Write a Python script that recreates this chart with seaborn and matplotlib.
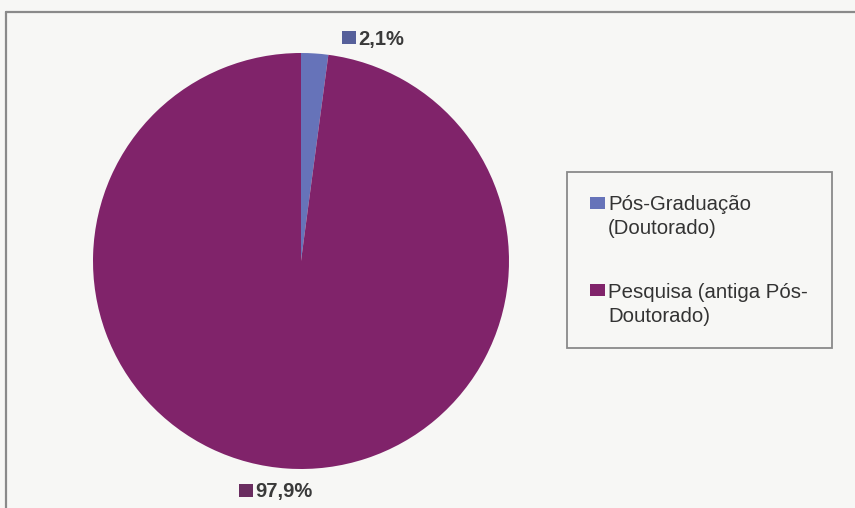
import matplotlib
matplotlib.use("Agg")
import matplotlib.pyplot as plt
import seaborn as sns
from matplotlib.patches import Rectangle
from matplotlib.lines import Line2D

sns.set_theme(style="white")
plt.rcParams["font.family"] = ["Liberation Sans", "DejaVu Sans"]

categories = ["Pós-Graduação\n(Doutorado)", "Pesquisa (antiga Pós-\nDoutorado)"]
shares = [2.1, 97.9]
pct_labels = ["2,1%", "97,9%"]
colors = ["#6673b9", "#80236a"]
marker_colors = ["#56609a", "#6a2d60"]

W, H = 855, 508
BG = "#f7f7f5"
fig = plt.figure(figsize=(W / 100, H / 100), dpi=100, facecolor=BG)


def fx(px):
    return px / W


def fy(py):
    return 1 - py / H


# pie area: centre (301, 261) px, radius 208 px
cx, cy, r = 301, 261, 208
ax = fig.add_axes([fx(cx - r), fy(cy + r), 2 * r / W, 2 * r / H])
ax.set_facecolor("none")
ax.pie(shares, colors=colors, startangle=90, counterclock=False,
       wedgeprops=dict(linewidth=0))
ax.set_xlim(-1, 1)
ax.set_ylim(-1, 1)
ax.set_aspect("equal")
ax.axis("off")

# outer chart frame (top and left edges visible)
frame_kw = dict(transform=fig.transFigure, color="#8a8a8a", lw=1.6)
fig.add_artist(Line2D([fx(6), 1.0], [fy(12), fy(12)], **frame_kw))
fig.add_artist(Line2D([fx(6), fx(6)], [0.0, fy(12)], **frame_kw))

# data labels with coloured key squares
label_pos = [(358, 37), (255, 490)]
for (lx, ly), txt, mc in zip(label_pos, pct_labels, marker_colors):
    fig.text(fx(lx), fy(ly), txt, ha="left", va="center_baseline", fontsize=14.5,
             fontweight="bold", color="#3a3a3a")
    fig.add_artist(Rectangle((fx(lx - 16), fy(ly + 7)), 14 / W, 13 / H,
                             transform=fig.transFigure, facecolor=mc, edgecolor="none"))

# legend box
fig.add_artist(Rectangle((fx(567), fy(348)), (832 - 567) / W, (348 - 172) / H,
                         transform=fig.transFigure, facecolor="none",
                         edgecolor="#8a8a8a", lw=1.3))
entry_y = [203, 290]
for y0, cat, c in zip(entry_y, categories, colors):
    fig.add_artist(Rectangle((fx(590), fy(y0 + 6)), 15 / W, 12 / H,
                             transform=fig.transFigure, facecolor=c, edgecolor="none"))
    for i, line in enumerate(cat.split("\n")):
        fig.text(fx(608), fy(y0 + 24 * i), line, ha="left", va="center_baseline",
                 fontsize=14.7, color="#333333")

fig.savefig("out.png", dpi=100, facecolor=fig.get_facecolor())
